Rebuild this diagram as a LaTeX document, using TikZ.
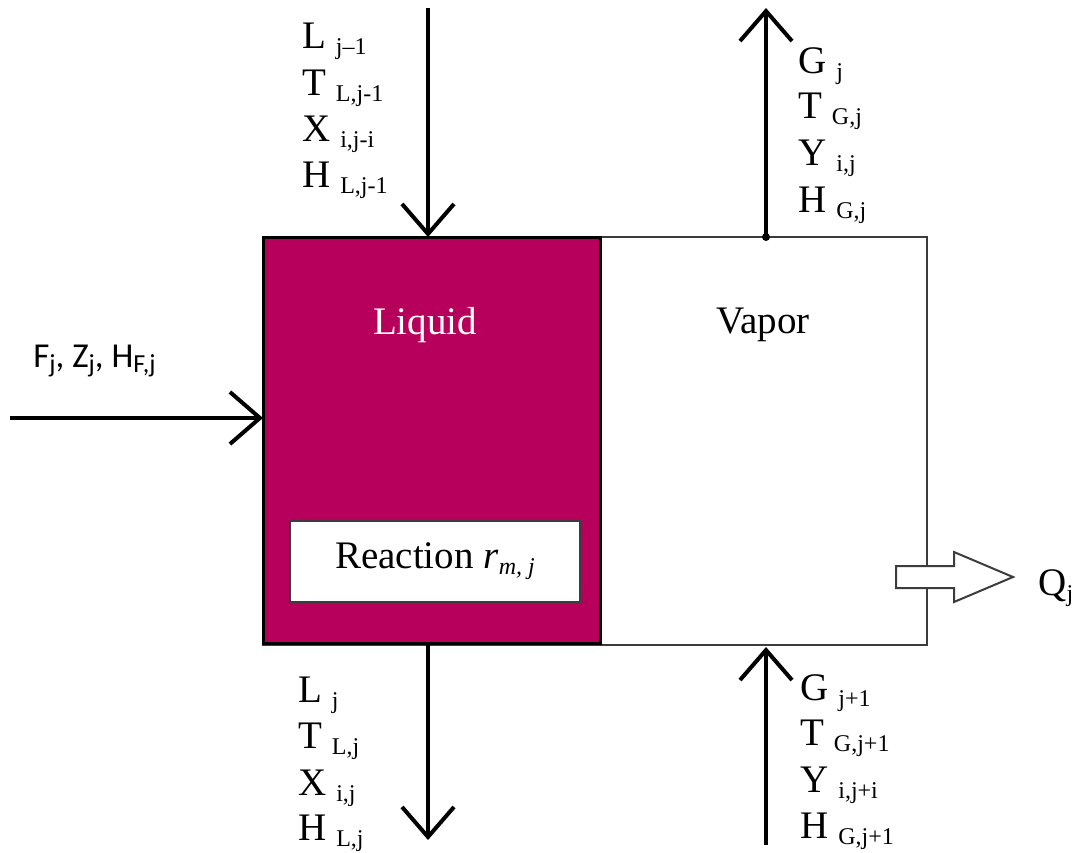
\documentclass[tikz,border=0pt]{standalone}
\usepackage{fontspec}
\setmainfont{Liberation Serif}
\newfontfamily\calib{Carlito}
\usetikzlibrary{arrows.meta}
\definecolor{liqcol}{RGB}{183,0,91}
\definecolor{edgegray}{RGB}{60,60,60}
\newcommand\sbx[1]{\raisebox{-3pt}{\fontsize{12}{14}\selectfont #1}}
\newcommand\sbf[1]{\raisebox{-2.5pt}{\fontsize{13}{14}\selectfont #1}}
\begin{document}
\begin{tikzpicture}[x=0.5pt,y=-0.5pt,
  lbl/.style={anchor=base west,inner sep=0pt,font=\fontsize{19.5}{23}\selectfont},
  flow/.style={line width=2pt,-{Straight Barb[length=15pt,width=26pt,line width=2pt]}},
  boxtext/.style={inner sep=0pt,font=\fontsize{19.5}{23}\selectfont}]
\useasboundingbox (0,0) rectangle (1090,852);
% outer (vapor) box
\node[draw=edgegray,line width=1pt,minimum width=332pt,minimum height=204pt,inner sep=0pt] (outer) at (595,441) {};
% liquid box
\node[draw=black,fill=liqcol,line width=1.5pt,minimum width=168.5pt,minimum height=203pt,inner sep=0pt] (liquid) at (431.5,440) {};
\node[boxtext,text=white] (liqlbl) at (425,325) {Liquid};
\node[boxtext] (vaplbl) at (763,325) {Vapor};
% reaction box
\node[draw=edgegray,fill=white,line width=1pt,minimum width=145pt,minimum height=40.5pt,inner sep=0pt,font=\fontsize{19.5}{23}\selectfont] (react) at (435,561.5) {Reaction \textit{r}\sbx{\textit{m, j}}};
% coordinates for flows
\coordinate (Lin) at (428,8);
\coordinate (Lint) at (428,237);
\coordinate (Gout) at (766,8);
\coordinate (Goutb) at (766,237);
\coordinate (Lout) at (428,645);
\coordinate (Loutb) at (428,840);
\coordinate (Gin) at (766,845);
\coordinate (Ginb) at (766,647);
\coordinate (Fin) at (10,418);
\coordinate (Fint) at (263,418);
\draw[flow] (Lin) -- (Lint);
\draw[flow] (Goutb) -- (Gout);
\draw[flow] (Lout) -- (Loutb);
\draw[flow] (Gin) -- (Ginb);
\draw[flow] (Fin) -- (Fint);
\fill (Goutb) circle (2pt);
% heat block arrow
\draw[edgegray,fill=white,line width=1pt] (896,566) -- (954,566) -- (954,552) -- (1013,577) -- (954,602) -- (954,588) -- (896,588) -- cycle;
\node[lbl] (Q) at (1038,595) {Q\sbx{j}};
% top-left labels
\node[lbl] (l1) at (302,48) {L \sbx{j–1}};
\node[lbl] (l2) at (302,95) {T \sbx{L,j-1}};
\node[lbl] (l3) at (302,141) {X \sbx{i,j-i}};
\node[lbl] (l4) at (302,187) {H \sbx{L,j-1}};
% top-right labels
\node[lbl] (g1) at (798,73) {G \sbx{j}};
\node[lbl] (g2) at (798,118) {T \sbx{G,j}};
\node[lbl] (g3) at (798,165) {Y \sbx{i,j}};
\node[lbl] (g4) at (798,212) {H \sbx{G,j}};
% bottom-left labels
\node[lbl] (b1) at (298,702) {L \sbx{j}};
\node[lbl] (b2) at (298,748) {T \sbx{L,j}};
\node[lbl] (b3) at (298,795) {X \sbx{i,j}};
\node[lbl] (b4) at (298,840) {H \sbx{L,j}};
% bottom-right labels
\node[lbl] (c1) at (800,700) {G \sbx{j+1}};
\node[lbl] (c2) at (800,745) {T \sbx{G,j+1}};
\node[lbl] (c3) at (800,792) {Y \sbx{i,j+i}};
\node[lbl] (c4) at (800,838) {H \sbx{G,j+1}};
% feed label
\node[anchor=base west,inner sep=0pt,font=\calib\fontsize{17.5}{20}\selectfont] (feed) at (33,367) {F\sbf{j}, Z\sbf{j}, H\sbf{F,j}};
\end{tikzpicture}
\end{document}
